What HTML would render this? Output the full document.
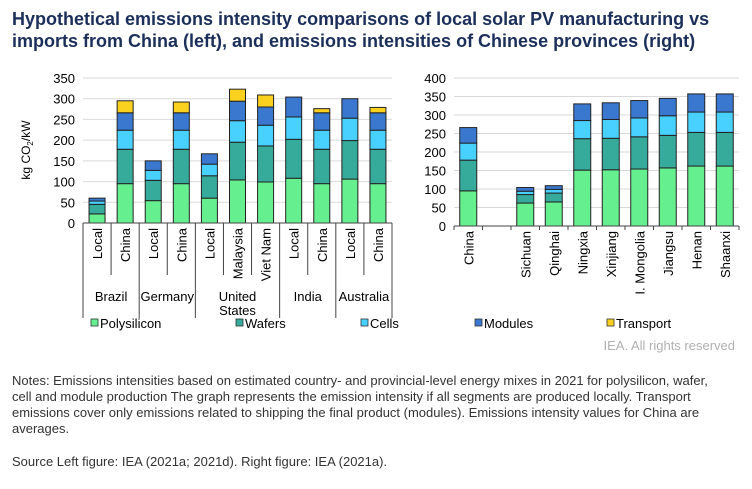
<!DOCTYPE html>
<html><head><meta charset="utf-8">
<style>
body{margin:0;background:#fff;font-family:"Liberation Sans",Arial,sans-serif;}
#wrap{position:relative;width:752px;height:489px;overflow:hidden;}
.title{position:absolute;left:12px;top:8px;font-size:18px;font-weight:bold;color:#1b2f5a;line-height:22px;width:725px;}
.notes{position:absolute;left:12px;top:373px;font-size:13px;color:#333;line-height:16px;width:718px;}
.src{position:absolute;left:12px;top:454px;font-size:13px;color:#333;}
svg text{font-family:"Liberation Sans",Arial,sans-serif;}
</style></head><body>
<div id="wrap">
<div class="title">Hypothetical emissions intensity comparisons of local solar PV manufacturing vs imports from China (left), and emissions intensities of Chinese provinces (right)</div>
<svg id="svg" width="752" height="489" style="position:absolute;left:0;top:0"></svg>
<div class="notes">Notes: Emissions intensities based on estimated country- and provincial-level energy mixes in 2021 for polysilicon, wafer, cell and module production The graph represents the emission intensity if all segments are produced locally. Transport emissions cover only emissions related to shipping the final product (modules). Emissions intensity values for China are averages.</div>
<div class="src">Source Left figure: IEA (2021a; 2021d). Right figure: IEA (2021a).</div>
</div>
<script>
const seriesNames=["Polysilicon","Wafers","Cells","Modules","Transport"];
const colors=["#66ef8f","#36ab9b","#48d1ff","#3a78d0","#fbd11f"];
const leftCats=["Local","China","Local","China","Local","Malaysia","Viet Nam","Local","China","Local","China"];
const leftGroups=[["Brazil"],["Germany"],["United","States"],["India"],["Australia"]];
const leftGroupSizes=[2,2,3,2,2];
const leftPoly=[22,95,54,95,60,104,99,108,95,106,95];
const leftWafers=[23,83,49,83,54,91,87,94,83,93,83];
const leftCells=[8,46,24,46,28,52,50,54,46,54,46];
const leftModules=[7,42,23,42,25,47,44,48,42,47,42];
const leftTransport=[0,29,0,26,0,29,29,0,10,0,13];
const leftTicks=[0,50,100,150,200,250,300,350];
const rightCats=["China","","Sichuan","Qinghai","Ningxia","Xinjiang","I. Mongolia","Jiangsu","Henan","Shaanxi"];
const rightPoly=[95,0,62,65,151,152,154,157,162,162];
const rightWafers=[83,0,23,24,85,85,87,88,91,91];
const rightCells=[46,0,9,10,49,51,51,53,55,55];
const rightModules=[42,0,10,10,45,45,47,47,49,49];
const rightTicks=[0,50,100,150,200,250,300,350,400];

const svg=document.getElementById('svg');
const NS='http://www.w3.org/2000/svg';
function mk(t,a,txt){const e=document.createElementNS(NS,t);for(const k in a)e.setAttribute(k,a[k]);if(txt!==undefined)e.textContent=txt;svg.appendChild(e);return e;}

function chart(o){
  const y=v=>o.y0-(v/o.max)*(o.y0-o.yTop);
  const bw=(o.x1-o.x0)/o.cats.length;
  o.ticks.forEach(t=>{
    const g=mk('line',{x1:o.x0,x2:o.x1,y1:y(t),y2:y(t),stroke:'#d9d9d9','stroke-width':1});
    
    const tx=mk('text',{x:o.x0-8,y:y(t)+5,'text-anchor':'end','font-size':13,fill:'#000'},t);
    
  });
  o.cats.forEach((c,i)=>{
    const cx=o.x0+bw*(i+0.5);let acc=0;
    o.series.forEach((s,k)=>{
      const v=s[i];if(!v)return;
      const r=mk('rect',{x:cx-o.barW/2,y:y(acc+v),width:o.barW,height:y(acc)-y(acc+v),fill:colors[k],stroke:'#222','stroke-width':1});
      
      acc+=v;
    });
    if(c){const t=mk('text',{transform:`translate(${cx+5},${o.y0+5}) rotate(-90)`,'text-anchor':'end','font-size':13,fill:'#000'},c);
    }
  });
  const ax=mk('line',{x1:o.x0,x2:o.x1,y1:o.y0,y2:o.y0,stroke:'#444','stroke-width':1});
  
  return {bw,y};
}
const L=chart({x0:83,x1:392,y0:223,yTop:78,max:350,cats:leftCats,series:[leftPoly,leftWafers,leftCells,leftModules,leftTransport],ticks:leftTicks,barW:16});
let idx=0;
for(let i=0;i<=leftCats.length;i++){
  const x=83+L.bw*i;
  const gb=[0,2,4,7,9,11].includes(i);
  const l=mk('line',{x1:x,x2:x,y1:223,y2:gb?318:275,stroke:'#444','stroke-width':1});
  
}
leftGroups.forEach((g,k)=>{
  const cx=83+L.bw*(idx+leftGroupSizes[k]/2);idx+=leftGroupSizes[k];
  g.forEach((line,j)=>{const t=mk('text',{x:cx,y:301+j*14,'text-anchor':'middle','font-size':13,fill:'#000'},line);
  });
});
const R=chart({x0:454,x1:739,y0:226,yTop:78,max:400,cats:rightCats,series:[rightPoly,rightWafers,rightCells,rightModules],ticks:rightTicks,barW:17});
for(let i=0;i<=rightCats.length;i++){const x=454+R.bw*i;const l=mk('line',{x1:x,x2:x,y1:226,y2:230,stroke:'#444'});
}
const yl=mk('text',{transform:'translate(30,150) rotate(-90)','text-anchor':'middle','font-size':12,fill:'#000'});
yl.innerHTML='kg CO<tspan font-size="8" dy="3">2</tspan><tspan dy="-3">/kW</tspan>';

const lx=[91,236,361,475,607];
seriesNames.forEach((n,k)=>{
  const r=mk('rect',{x:lx[k],y:319,width:7,height:7,fill:colors[k],stroke:'#333','stroke-width':0.8});
  
  const t=mk('text',{x:lx[k]+9,y:328,'font-size':13,fill:'#000'},n);
  
});
const c=mk('text',{x:735,y:350,'text-anchor':'end','font-size':13,fill:'#b0b0b0'},'IEA. All rights reserved');

</script>
</body></html>
